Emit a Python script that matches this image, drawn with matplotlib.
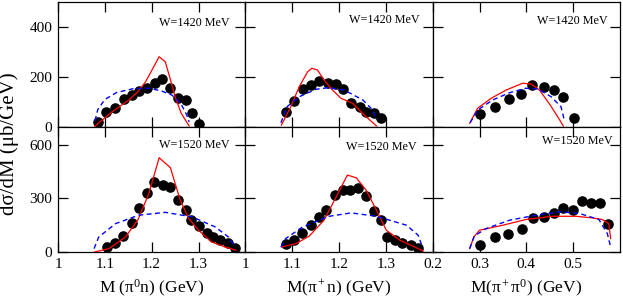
import numpy as np
import matplotlib
matplotlib.use("Agg")
import matplotlib.pyplot as plt

plt.rcParams['font.family'] = ['Liberation Serif', 'DejaVu Serif']
plt.rcParams['mathtext.fontset'] = 'custom'
plt.rcParams['mathtext.rm'] = 'Liberation Serif'
plt.rcParams['mathtext.it'] = 'Liberation Serif:italic'
plt.rcParams['mathtext.default'] = 'regular'

# ---- data (x in GeV, y in mub/GeV) ----
# top row, W = 1420 MeV
pi0n_1420_x = [1.086, 1.103, 1.121, 1.140, 1.157, 1.172, 1.190, 1.208, 1.223, 1.240, 1.257, 1.273, 1.286, 1.300]
pi0n_1420_y = [21, 61, 77, 111, 128, 144, 157, 175, 191, 155, 117, 108, 57, 12]
pi0n_1420_red_x = [1.079, 1.115, 1.151, 1.170, 1.187, 1.216, 1.229, 1.240, 1.250, 1.263, 1.280]
pi0n_1420_red_y = [4, 60, 108, 140, 181, 281, 261, 190, 121, 55, 4]
pi0n_1420_blue_x = [1.079, 1.085, 1.100, 1.125, 1.160, 1.194, 1.220, 1.243, 1.262, 1.275, 1.280]
pi0n_1420_blue_y = [25, 70, 110, 138, 153, 155, 145, 128, 95, 48, 20]

pipn_1420_x = [1.086, 1.104, 1.123, 1.141, 1.158, 1.176, 1.194, 1.209, 1.226, 1.244, 1.258, 1.274, 1.290]
pipn_1420_y = [59, 104, 151, 168, 184, 175, 171, 151, 95, 81, 61, 55, 35]
pipn_1420_red_x = [1.077, 1.097, 1.115, 1.133, 1.142, 1.154, 1.168, 1.186, 1.204, 1.229, 1.254, 1.280]
pipn_1420_red_y = [8, 81, 161, 221, 235, 228, 188, 148, 115, 95, 48, 4]
pipn_1420_blue_x = [1.076, 1.089, 1.115, 1.151, 1.176, 1.211, 1.251, 1.272, 1.280]
pipn_1420_blue_y = [17, 81, 121, 151, 157, 148, 108, 68, 28]

pipi_1420_x = [0.300, 0.334, 0.362, 0.389, 0.412, 0.437, 0.459, 0.479, 0.502]
pipi_1420_y = [51, 81, 111, 131, 168, 159, 148, 121, 35]
pipi_1420_red_x = [0.279, 0.296, 0.325, 0.357, 0.392, 0.410, 0.428, 0.451, 0.467, 0.479]
pipi_1420_red_y = [15, 75, 115, 148, 175, 172, 148, 88, 41, 4]
pipi_1420_blue_x = [0.280, 0.296, 0.328, 0.364, 0.399, 0.425, 0.453, 0.474, 0.481]
pipi_1420_blue_y = [17, 68, 108, 137, 155, 152, 121, 81, 28]

# bottom row, W = 1520 MeV
pi0n_1520_x = [1.105, 1.121, 1.138, 1.157, 1.174, 1.190, 1.206, 1.224, 1.240, 1.257, 1.273, 1.284, 1.300,
               1.318, 1.332, 1.346, 1.362, 1.377]
pi0n_1520_y = [28, 51, 88, 163, 244, 331, 393, 378, 365, 290, 234, 178, 144, 107, 84, 66, 51, 22]
pi0n_1520_red_x = [1.078, 1.109, 1.144, 1.171, 1.194, 1.216, 1.240, 1.261, 1.279, 1.300, 1.328, 1.357, 1.380]
pi0n_1520_red_y = [0, 19, 84, 182, 328, 528, 472, 290, 188, 122, 56, 28, 10]
pi0n_1520_blue_x = [1.077, 1.087, 1.123, 1.172, 1.229, 1.286, 1.336, 1.364, 1.378]
pi0n_1520_blue_y = [19, 84, 159, 206, 222, 197, 140, 84, 28]

pipn_1520_x = [1.086, 1.104, 1.122, 1.140, 1.158, 1.173, 1.192, 1.208, 1.224, 1.240, 1.257, 1.274, 1.290,
               1.303, 1.319, 1.335, 1.353, 1.368]
pipn_1520_y = [47, 70, 107, 154, 197, 238, 318, 346, 350, 356, 313, 228, 178, 84, 66, 51, 38, 25]
pipn_1520_red_x = [1.077, 1.108, 1.136, 1.168, 1.194, 1.218, 1.237, 1.258, 1.280, 1.301, 1.330, 1.358, 1.380]
pipn_1520_red_y = [28, 47, 88, 178, 309, 431, 415, 346, 234, 122, 66, 32, 6]
pipn_1520_blue_x = [1.076, 1.086, 1.122, 1.179, 1.226, 1.280, 1.344, 1.369, 1.378]
pipn_1520_blue_y = [28, 75, 140, 200, 219, 200, 150, 94, 28]

pipi_1520_x = [0.300, 0.334, 0.360, 0.391, 0.414, 0.437, 0.460, 0.479, 0.499, 0.519, 0.538, 0.557, 0.574]
pipi_1520_y = [41, 84, 103, 131, 188, 197, 216, 244, 234, 285, 277, 277, 155]
pipi_1520_red_x = [0.279, 0.288, 0.300, 0.350, 0.399, 0.456, 0.506, 0.541, 0.562, 0.576, 0.580]
pipi_1520_red_y = [19, 84, 122, 150, 182, 200, 200, 191, 182, 159, 75]
pipi_1520_blue_x = [0.279, 0.289, 0.314, 0.364, 0.421, 0.470, 0.513, 0.555, 0.573, 0.580]
pipi_1520_blue_y = [19, 90, 131, 178, 206, 225, 216, 182, 103, 28]

panels = [
    [(pi0n_1420_x, pi0n_1420_y, pi0n_1420_red_x, pi0n_1420_red_y, pi0n_1420_blue_x, pi0n_1420_blue_y),
     (pipn_1420_x, pipn_1420_y, pipn_1420_red_x, pipn_1420_red_y, pipn_1420_blue_x, pipn_1420_blue_y),
     (pipi_1420_x, pipi_1420_y, pipi_1420_red_x, pipi_1420_red_y, pipi_1420_blue_x, pipi_1420_blue_y)],
    [(pi0n_1520_x, pi0n_1520_y, pi0n_1520_red_x, pi0n_1520_red_y, pi0n_1520_blue_x, pi0n_1520_blue_y),
     (pipn_1520_x, pipn_1520_y, pipn_1520_red_x, pipn_1520_red_y, pipn_1520_blue_x, pipn_1520_blue_y),
     (pipi_1520_x, pipi_1520_y, pipi_1520_red_x, pipi_1520_red_y, pipi_1520_blue_x, pipi_1520_blue_y)],
]

row_labels = ["W=1420 MeV", "W=1520 MeV"]
xlabels = ["M (π$^0$n) (GeV)", "M(π$^+$n) (GeV)", "M(π$^+$π$^0$) (GeV)"]
xlims = [(1.0, 1.4), (1.0, 1.4), (0.2, 0.6)]
xticks = [[1.0, 1.1, 1.2, 1.3], [1.0, 1.1, 1.2, 1.3], [0.2, 0.3, 0.4, 0.5]]
xticklabels = [["1", "1.1", "1.2", "1.3"], ["1", "1.1", "1.2", "1.3"], ["0.2", "0.3", "0.4", "0.5"]]
ylims = [(0, 500), (0, 700)]
yticks = [[0, 200, 400], [0, 300, 600]]
# where the W label sits in each panel (axes fraction, right edge / vertical centre)
label_pos = [[(0.915, 0.836), (0.93, 0.86), (0.936, 0.845)],
             [(0.915, 0.853), (0.916, 0.84), (0.96, 0.888)]]

fig, axes = plt.subplots(2, 3, figsize=(6.23, 3.0), dpi=100)
fig.subplots_adjust(left=0.0931, right=0.9952, bottom=0.16, top=0.9933, wspace=0, hspace=0)

for r in range(2):
    for c in range(3):
        ax = axes[r, c]
        dx, dy, rx, ry, bx, by = panels[r][c]
        ax.plot(dx, dy, 'o', color='black', ms=6.6, zorder=2)
        ax.plot(rx, ry, '-', color='#ff0000', lw=0.9, zorder=3)
        ax.plot(bx, by, '--', color='#0000ff', lw=1.0, dashes=(3.5, 2.5), zorder=3)
        ax.set_xlim(xlims[c])
        ax.set_ylim(ylims[r])
        ax.set_xticks(xticks[c])
        ax.set_yticks(yticks[r])
        ax.tick_params(direction='in', length=7, width=0.9, top=True, right=True,
                       labelsize=11, pad=4)
        if r == 1:
            ax.set_xticklabels(xticklabels[c])
            ax.set_xlabel(xlabels[c], fontsize=12.5, labelpad=5)
        else:
            ax.set_xticklabels([])
        if c != 0:
            ax.set_yticklabels([])
        for s in ax.spines.values():
            s.set_linewidth(0.9)
        lx, ly = label_pos[r][c]
        ax.text(lx, ly, row_labels[r], transform=ax.transAxes, ha='right', va='center',
                fontsize=8.7)

fig.text(0.0145, 1 - 143.5 / 300, "dσ/dM (μb/GeV)", rotation=90, ha='center', va='center',
         fontsize=15)

fig.savefig("out.png", dpi=100)
